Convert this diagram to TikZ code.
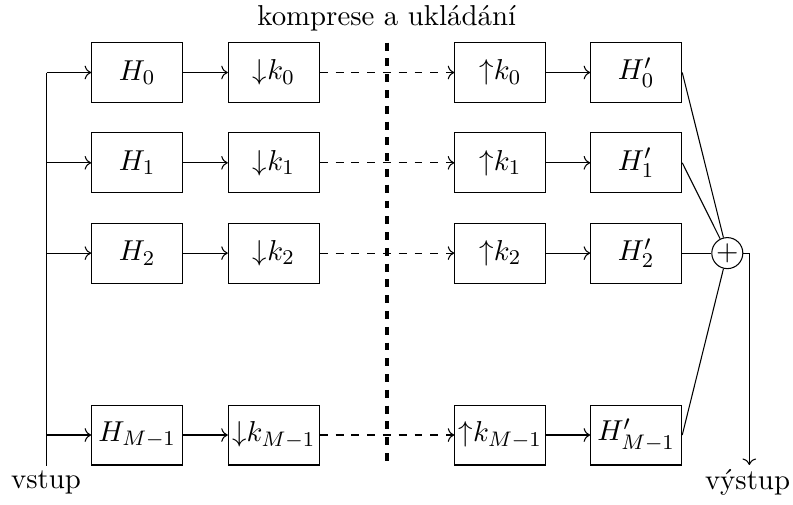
\documentclass[tikz,border=0pt]{standalone}
\usepackage{tikz}
\usetikzlibrary{arrows.meta}
\tikzset{
  font=\fontsize{10.95}{13.6}\selectfont,
  >=To,
  blok/.style={draw=black, line width=0.4pt, minimum width=34.6pt, minimum height=22.8pt, inner sep=1pt},
  sum/.style={draw=black, circle, line width=0.4pt, minimum size=11.8pt, inner sep=0pt},
  sig/.style={draw=black, line width=0.4pt, ->},
  line/.style={draw=black, line width=0.4pt},
  store/.style={draw=black, line width=0.4pt, dashed, ->},
  divider/.style={draw=black, line width=1.5pt, dashed},
  lab/.style={inner sep=1.5pt},
}
\begin{document}
\begin{tikzpicture}[x=0.3802pt,y=-0.3802pt]
\useasboundingbox (0,0) rectangle (793,504);
\def\cH{137.2}
\def\cD{273.8}
\def\cU{500.3}
\def\cG{636.2}
\def\xin{46.7}
\def\xout{749.3}
\def\xcut{386.7}
% analysis filters
\node[blok] (H0) at (\cH,72.5) {$H_0$};
\node[blok] (H1) at (\cH,162.8) {$H_1$};
\node[blok] (H2) at (\cH,253.1) {$H_2$};
\node[blok] (H3) at (\cH,435) {$H_{M-1}$};
% downsampling
\node[blok] (D0) at (\cD,72.5) {${\downarrow}k_0$};
\node[blok] (D1) at (\cD,162.8) {${\downarrow}k_1$};
\node[blok] (D2) at (\cD,253.1) {${\downarrow}k_2$};
\node[blok] (D3) at (\cD,435) {${\downarrow}k_{M-1}$};
% upsampling
\node[blok] (U0) at (\cU,72.5) {${\uparrow}k_0$};
\node[blok] (U1) at (\cU,162.8) {${\uparrow}k_1$};
\node[blok] (U2) at (\cU,253.1) {${\uparrow}k_2$};
\node[blok] (U3) at (\cU,435) {${\uparrow}k_{M-1}$};
% synthesis filters
\node[blok] (G0) at (\cG,72.5) {$H'_0$};
\node[blok] (G1) at (\cG,162.8) {$H'_1$};
\node[blok] (G2) at (\cG,253.1) {$H'_2$};
\node[blok] (G3) at (\cG,435) {$H'_{M-1}$};
\node[sum] (plus) at (727.3,253.1) {$+$};
% labels
\node[lab] (title) at (\xcut,18) {komprese a ukládání};
\node[lab] (vstup) at (46,482) {vstup};
\node[lab] (vystup) at (747.5,482) {výstup};
% input line
\coordinate (intop) at (\xin,72.5);
\coordinate (inbot) at (\xin,465.7);
\draw[line] (intop) -- (inbot);
\draw[sig] (intop) -- (H0);
\draw[sig] (intop |- H1) -- (H1);
\draw[sig] (intop |- H2) -- (H2);
\draw[sig] (intop |- H3) -- (H3);
% filter -> decimator -> storage -> expander -> filter
\draw[sig] (H0) -- (D0); \draw[store] (D0) -- (U0); \draw[sig] (U0) -- (G0);
\draw[sig] (H1) -- (D1); \draw[store] (D1) -- (U1); \draw[sig] (U1) -- (G1);
\draw[sig] (H2) -- (D2); \draw[store] (D2) -- (U2); \draw[sig] (U2) -- (G2);
\draw[sig] (H3) -- (D3); \draw[store] (D3) -- (U3); \draw[sig] (U3) -- (G3);
% separator
\coordinate (cuttop) at (\xcut,42.7);
\coordinate (cutbot) at (\xcut,465);
\draw[divider] (cuttop) -- (cutbot);
% summation and output
\draw[line] (G0.east) -- (plus);
\draw[line] (G1.east) -- (plus);
\draw[line] (G2.east) -- (plus);
\draw[line] (G3.east) -- (plus);
\coordinate (outbot) at (\xout,465);
\draw[sig] (plus.east) -| (outbot);
\end{tikzpicture}
\end{document}
